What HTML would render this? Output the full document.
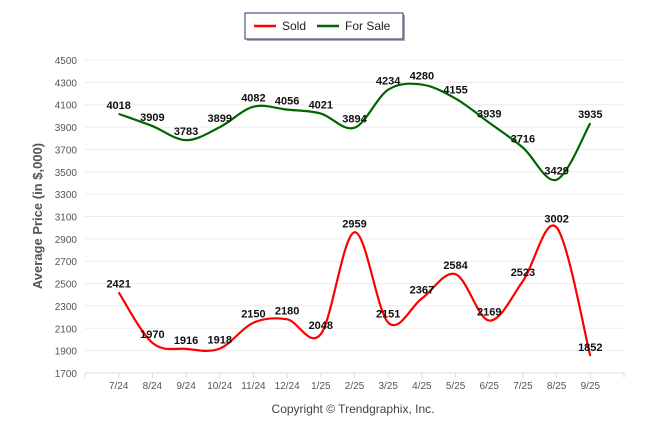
<!DOCTYPE html>
<html><head><meta charset="utf-8"><style>
body{margin:0;background:#fff;font-family:"Liberation Sans",sans-serif}
svg{display:block}
</style></head><body>
<svg id="c" width="646" height="434">
<g>
<rect x="247" y="15" width="158" height="26" fill="#aaa"/>
<rect x="245" y="13" width="158" height="26" fill="#fff" stroke="#1f3864" stroke-width="1"/>
<line x1="254" y1="26" x2="276" y2="26" stroke="#f00" stroke-width="2.5"/>
<text x="282" y="30" font-size="12" fill="#222">Sold</text>
<line x1="317" y1="26" x2="339" y2="26" stroke="#006400" stroke-width="2.5"/>
<text x="345" y="30" font-size="12" fill="#222">For Sale</text>
</g>
<text transform="translate(42,216) rotate(-90)" text-anchor="middle" font-size="13" font-weight="bold" fill="#555">Average Price (in $,000)</text>
<text x="353" y="413" text-anchor="middle" font-size="12" fill="#444">Copyright © Trendgraphix, Inc.</text>
<g id="grid"></g><g id="marks"></g>
</svg>
<script>
const categories=["7/24","8/24","9/24","10/24","11/24","12/24","1/25","2/25","3/25","4/25","5/25","6/25","7/25","8/25","9/25"];
const sold=[2421,1970,1916,1918,2150,2180,2048,2959,2151,2367,2584,2169,2523,3002,1852];
const forSale=[4018,3909,3783,3899,4082,4056,4021,3894,4234,4280,4155,3939,3716,3429,3935];
const yTicks=[1700,1900,2100,2300,2500,2700,2900,3100,3300,3500,3700,3900,4100,4300,4500];
const L=85,R=624,T=60,B=373,ymin=1700,ymax=4500;
const x=i=>L+(R-L)/16*(i+1);
const y=v=>B-(v-ymin)/(ymax-ymin)*(B-T);
const NS="http://www.w3.org/2000/svg";
const grid=document.getElementById('grid'),marks=document.getElementById('marks');
function mk(t,a,p){const e=document.createElementNS(NS,t);for(const k in a)e.setAttribute(k,a[k]);p.appendChild(e);return e;}
yTicks.forEach(v=>{
 const g=mk('line',{x1:L,x2:R,y1:y(v),y2:y(v),stroke:v===ymin?'#ddd':'#ececec','stroke-width':1},grid);
 
 
 const t=mk('text',{x:L-8,y:y(v)+4,'text-anchor':'end','font-size':10,fill:'#555'},grid);
 t.textContent=v;
 
 
});
for(let i=0;i<=16;i++){const xx=L+(R-L)/16*i;mk('line',{x1:xx,x2:xx,y1:B,y2:B+5,stroke:'#ddd'},grid);}
categories.forEach((c,i)=>{
 const t=mk('text',{x:x(i),y:B+16,'text-anchor':'middle','font-size':10,fill:'#555'},grid);
 t.textContent=c;
 
 
});
function path(vals){
 const p=vals.map((v,i)=>[x(i),y(v)]);
 let d='M'+p[0][0]+','+p[0][1];
 for(let i=0;i<p.length-1;i++){
  const p0=p[i-1]||p[i],p1=p[i],p2=p[i+1],p3=p[i+2]||p2,k=6;
  d+=' C'+(p1[0]+(p2[0]-p0[0])/k)+','+(p1[1]+(p2[1]-p0[1])/k)+' '+(p2[0]-(p3[0]-p1[0])/k)+','+(p2[1]-(p3[1]-p1[1])/k)+' '+p2[0]+','+p2[1];
 }
 return d;
}
[[forSale,'#006400','for-sale'],[sold,'#f00','sold']].forEach(([vals,col,n])=>{
 const l=mk('path',{d:path(vals),fill:'none',stroke:col,'stroke-width':2.2},marks);
 
 
 vals.forEach((v,i)=>{
  const t=mk('text',{x:x(i),y:y(v)-5,'text-anchor':'middle','font-size':11,'font-weight':'bold',fill:'#111'},marks);
  t.textContent=v;
  
  
 });
});
</script>
</body></html>
